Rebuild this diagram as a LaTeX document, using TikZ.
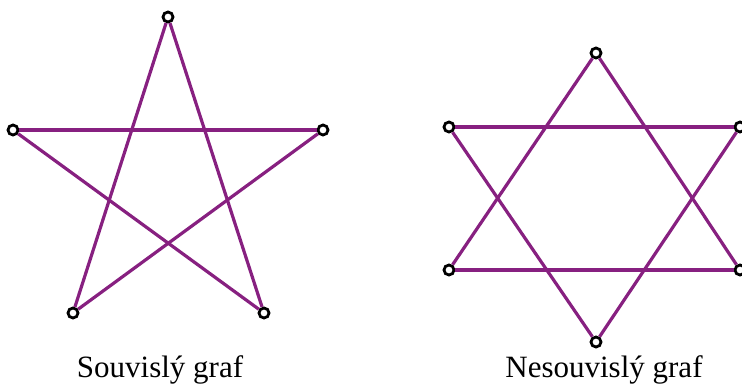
\documentclass[tikz,border=0pt]{standalone}
\usepackage{fontspec}
\setmainfont{Liberation Serif}
\usetikzlibrary{positioning}
\definecolor{edgecol}{RGB}{135,32,128}
\tikzstyle{vertex}=[draw=black, fill=white, circle, line width=2.8pt,
inner sep=0pt, minimum size=10pt]
\tikzstyle{edge}=[draw=edgecol, line width=3.2pt]
\tikzstyle{caption}=[font=\fontsize{31}{34}\selectfont, anchor=base]

\begin{document}
\begin{tikzpicture}[x=1pt, y=-1pt]
    \useasboundingbox (0,0) rectangle (742,390);

    % souvisly graf
    \node[vertex] (A1) at (168, 17) {};
    \node[vertex] (A2) at (13, 130) {};
    \node[vertex] (A3) at (323, 130) {};
    \node[vertex] (A4) at (73, 313) {};
    \node[vertex] (A5) at (264, 313) {};

    % nesouvisly graf
    \node[vertex] (B1) at (596, 53) {};
    \node[vertex] (B2) at (449, 127) {};
    \node[vertex] (B3) at (740, 127) {};
    \node[vertex] (B4) at (449, 270) {};
    \node[vertex] (B5) at (740, 270) {};
    \node[vertex] (B6) at (596, 342) {};

    \draw[edge] (A1) -- (A4);
    \draw[edge] (A4) -- (A3);
    \draw[edge] (A3) -- (A2);
    \draw[edge] (A2) -- (A5);
    \draw[edge] (A5) -- (A1);

    \draw[edge] (B1) -- (B4);
    \draw[edge] (B4) -- (B5);
    \draw[edge] (B5) -- (B1);
    \draw[edge] (B6) -- (B2);
    \draw[edge] (B2) -- (B3);
    \draw[edge] (B3) -- (B6);

    \node[caption] (capA) at (160, 377) {Souvislý graf};
    \node[caption] (capB) at (604, 377) {Nesouvislý graf};
\end{tikzpicture}
\end{document}
